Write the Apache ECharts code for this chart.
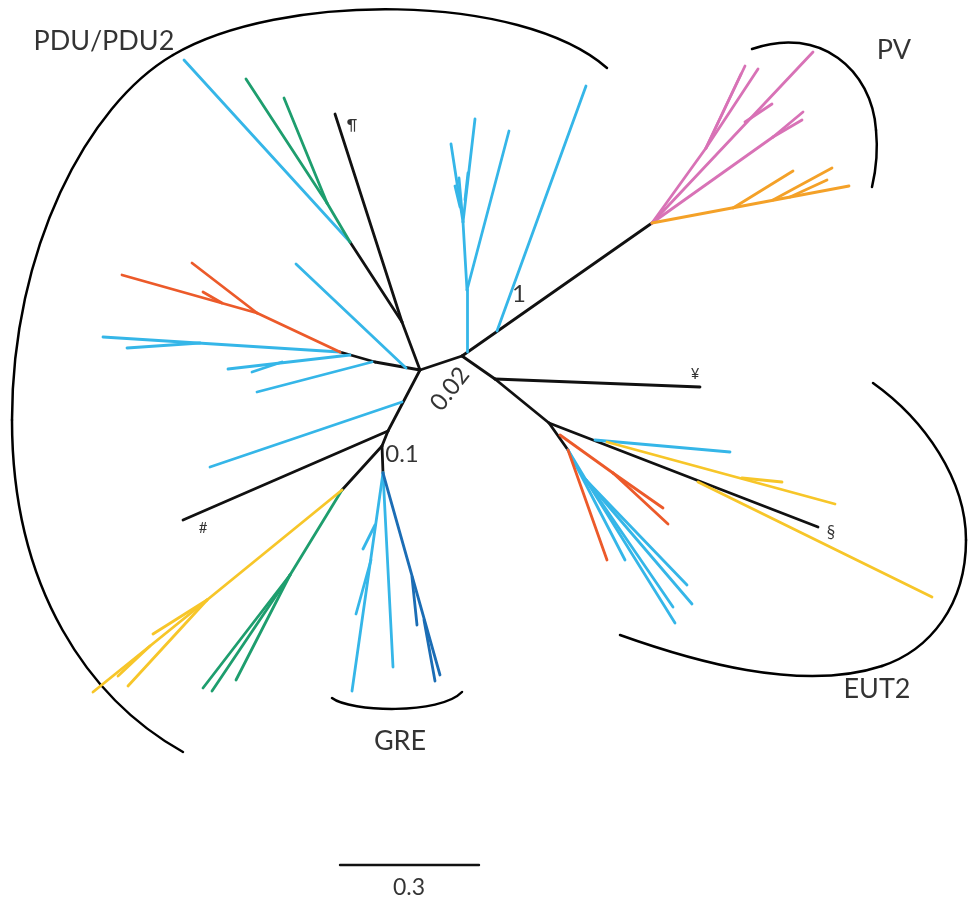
<!DOCTYPE html>
<html><head><meta charset="utf-8">
<script src="https://cdn.jsdelivr.net/npm/echarts@6/dist/echarts.min.js"></script>
<style>html,body{margin:0;padding:0;background:#fff}#c{width:970px;height:901px}</style>
</head><body><div id="c"></div>
<script>
// Tree layout coordinates (layout units), branches as [x1,y1,x2,y2]
const blackEdges = [
  [420,370,462,356],[462,356,652,223],[462,356,495,379],[495,379,549,423],
  [495,379,700,387],[549,423,818,527],[549,423,568,450],
  [420,370,402,322],[402,322,335,114],[402,322,350,242],
  [420,370,375,362],[375,362,340,352],
  [420,370,388,431],[388,431,183,520],[388,431,382,446],[382,446,342,490],[382,446,383,473]
];
const cyanEdges = [
  [497,331,586,86],
  [467,352,467,290],[467,290,509,131],[467,290,463,222],[463,222,475,119],[463,222,451,144],
  [462,212,459,178],[460,207,455,186],[465,200,468,173],
  [350,242,184,60],
  [406,368,296,264],
  [340,352,103,337],[200,343,127,348],
  [350,355,228,369],[282,362,252,372],[372,362,257,392],
  [402,402,210,467],
  [383,473,352,691],[375,525,363,549],[371,560,356,614],[383,473,393,667],
  [595,440,730,452],
  [568,450,625,560],[568,450,586,480],[586,480,687,585],[586,480,692,604],[586,480,673,607],[586,480,675,623]
];
const darkBlueEdges = [
  [383,473,440,675],[424,620,435,681],[412,577,417,625]
];
const greenEdges = [
  [350,242,327,203],[327,203,246,79],[327,203,284,98],
  [342,490,290,575],[290,575,203,688],[290,575,212,691],[290,575,236,680]
];
const redEdges = [
  [340,352,257,313],[257,313,122,275],[257,313,192,263],[222,303,203,292],
  [560,435,613,473],[613,473,663,508],[613,473,668,524],[568,450,607,560]
];
const yellowEdges = [
  [342,490,207,600],[207,600,93,692],[207,600,153,634],[207,600,128,686],[150,646,118,676],
  [607,442,835,504],[742,478,782,482],[698,482,932,597]
];
const pinkEdges = [
  [652,223,813,52],[652,223,706,148],[706,148,745,66],[706,148,741,74],[706,148,758,69],
  [745,122,772,104],[652,223,773,137],[773,137,803,112],[773,137,802,120]
];
const orangeEdges = [
  [652,223,849,186],[733,208,793,171],[773,200,832,168],[790,197,827,180]
];
const scaleBar = [[340,865,479,865]];

// Clade brackets as cubic Bezier pieces [x1,y1,cx1,cy1,cx2,cy2,x2,y2]
const arcPDU = [
  [607,68,520,-8,280,-8,173,55],
  [173,55,87,105,12,250,12,420],
  [12,420,12,590,90,700,183,752]
];
const arcPV = [
  [752,49,820,25,872,70,876,130],
  [876,130,878,150,876,170,872,187]
];
const arcEUT2 = [
  [873,383,925,420,966,480,966,540],
  [966,540,966,605,930,650,882,666],
  [882,666,800,693,690,660,620,635]
];
const arcGRE = [[332,698,350,712,440,715,462,692]];

// Text labels
const labels = [
  {name:'PDU/PDU2', value:[104,41], size:27},
  {name:'PV', value:[894,50], size:27},
  {name:'EUT2', value:[877,689], size:27},
  {name:'GRE', value:[400,741], size:27},
  {name:'1', value:[519,294], size:24},
  {name:'0.02', value:[450,389], size:24, rotate:52},
  {name:'0.1', value:[402,454], size:24},
  {name:'¶', value:[352,125], size:15},
  {name:'¥', value:[695,374], size:15},
  {name:'§', value:[831,533], size:17},
  {name:'#', value:[203,528], size:15},
  {name:'0.3', value:[409,888], size:23}
];

const FONT = 'Lato';
function segs(arr){ return arr.map(s => ({coords:[[s[0],s[1]],[s[2],s[3]]]})); }
function edgeSeries(arr, color, w){
  return {type:'lines', coordinateSystem:'cartesian2d', silent:true, data:segs(arr),
    lineStyle:{color:color, width:w||2.8, opacity:1, cap:'round'}, z:2};
}
function arcSeries(pieces){
  return {type:'custom', coordinateSystem:'cartesian2d', silent:true, z:1, clip:false,
    data: pieces,
    encode:{x:[0,2,4,6], y:[1,3,5,7]},
    renderItem: function(params, api){
      const p1 = api.coord([api.value(0), api.value(1)]);
      const c1 = api.coord([api.value(2), api.value(3)]);
      const c2 = api.coord([api.value(4), api.value(5)]);
      const p2 = api.coord([api.value(6), api.value(7)]);
      return {type:'bezierCurve',
        shape:{x1:p1[0],y1:p1[1],cpx1:c1[0],cpy1:c1[1],cpx2:c2[0],cpy2:c2[1],x2:p2[0],y2:p2[1]},
        style:{stroke:'#000', lineWidth:2.5, fill:null, lineCap:'round'}};
    }};
}

const chart = echarts.init(document.getElementById('c'), null, {renderer:'canvas'});
chart.setOption({
  backgroundColor:'#fff',
  animation:false,
  grid:{left:0,right:0,top:0,bottom:0},
  xAxis:{type:'value', min:0, max:970, show:false},
  yAxis:{type:'value', min:0, max:901, inverse:true, show:false},
  series:[
    edgeSeries(blackEdges,'#111111'),
    edgeSeries(cyanEdges,'#35b6e8'),
    edgeSeries(darkBlueEdges,'#1b6db5'),
    edgeSeries(greenEdges,'#1e9e6e'),
    edgeSeries(redEdges,'#ec5a2a'),
    edgeSeries(yellowEdges,'#f7c629'),
    edgeSeries(pinkEdges,'#d872b6'),
    edgeSeries(orangeEdges,'#f4a128'),
    edgeSeries(scaleBar,'#111111',2.4),
    arcSeries(arcPDU), arcSeries(arcPV), arcSeries(arcEUT2), arcSeries(arcGRE),
    {type:'scatter', symbolSize:0, silent:true, z:5,
     data: labels.map(l => ({name:l.name, value:l.value,
       label:{show:true, formatter:l.name, position:'inside', align:'center', verticalAlign:'middle',
         fontSize:l.size, fontFamily:FONT, color:'#000', rotate:l.rotate||0}}))}
  ]
});
</script></body></html>
